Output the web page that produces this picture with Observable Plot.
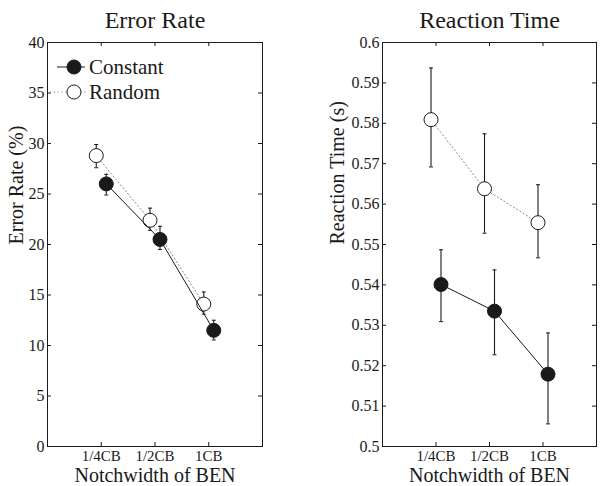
<!DOCTYPE html>
<html>
<head>
<meta charset="utf-8">
<script src="https://cdn.jsdelivr.net/npm/d3@7"></script>
<script src="https://cdn.jsdelivr.net/npm/@observablehq/plot@0.6"></script>
<style>
  html, body { margin: 0; padding: 0; background: #fff; }
  #wrap { position: relative; width: 600px; height: 486px; }
  #wrap > div, #wrap > svg { position: absolute; top: 0; }
</style>
</head>
<body>
<div id="wrap"></div>
<script>
// ---- data ----
const categories = ["1/4CB", "1/2CB", "1CB"];
const xPos = [1, 2, 3];

const errConstant   = [26.0, 20.5, 11.5];
const errConstantLo = [24.9, 19.5, 10.55];
const errConstantHi = [26.95, 21.8, 12.5];
const errRandom     = [28.8, 22.4, 14.1];
const errRandomLo   = [27.6, 21.4, 13.1];
const errRandomHi   = [29.9, 23.6, 15.3];

const rtConstant   = [0.5401, 0.5335, 0.5179];
const rtConstantLo = [0.5309, 0.5227, 0.5056];
const rtConstantHi = [0.5487, 0.5437, 0.5281];
const rtRandom     = [0.5809, 0.5638, 0.5554];
const rtRandomLo   = [0.5692, 0.5528, 0.5467];
const rtRandomHi   = [0.5937, 0.5774, 0.5648];

const errTicks = [0, 5, 10, 15, 20, 25, 30, 35, 40];
const rtTicks = [0.5, 0.51, 0.52, 0.53, 0.54, 0.55, 0.56, 0.57, 0.58, 0.59, 0.6];

const FONT = "'Liberation Serif', 'Times New Roman', serif";
const INK = "#1a1a1a";

// small horizontal cap symbol for error bars
const capSymbol = {draw(ctx) { ctx.moveTo(-2, 0); ctx.lineTo(2, 0); }};

function rows(vals, lo, hi) {
  return vals.map((v, i) => ({x: xPos[i], cat: categories[i], y: v, lo: lo[i], hi: hi[i]}));
}

function panel({title, ylabel, yDomain, yTicks, constant, random, marginLeft, marginRight, ylabelDx, fmt}) {
  const W = 300, H = 486;
  const mT = 42, mB = 40;
  const innerW = W - marginLeft - marginRight;
  const innerH = H - mT - mB;
  const tk = 4;
  const seriesMarks = (data, opts) => {
    const {dx, fill, lineStroke, dash} = opts;
    return [
      Plot.line(data, {x: "x", y: "y", dx, stroke: lineStroke, strokeWidth: 1, strokeDasharray: dash}),
      Plot.ruleX(data, {x: "x", y1: "lo", y2: "hi", dx, stroke: INK, strokeWidth: 1.1}),
      Plot.dot(data, {x: "x", y: "lo", dx, symbol: capSymbol, stroke: INK, strokeWidth: 1}),
      Plot.dot(data, {x: "x", y: "hi", dx, symbol: capSymbol, stroke: INK, strokeWidth: 1}),
      Plot.dot(data, {x: "x", y: "y", dx, r: 7, fill, stroke: INK, strokeWidth: 1})
    ];
  };
  return Plot.plot({
    width: W, height: H,
    marginLeft, marginRight, marginTop: mT, marginBottom: mB,
    style: {fontFamily: FONT, background: "transparent", color: INK},
    x: {type: "linear", domain: [0, 4]},
    y: {type: "linear", domain: yDomain},
    marks: [
      // inward ticks on all four sides
      Plot.ruleY(yTicks, {y: d => d, insetRight: innerW - tk, stroke: INK, strokeWidth: 1}),
      Plot.ruleY(yTicks, {y: d => d, insetLeft: innerW - tk, stroke: INK, strokeWidth: 1}),
      Plot.ruleX(xPos, {x: d => d, insetTop: innerH - tk, stroke: INK, strokeWidth: 1}),
      Plot.ruleX(xPos, {x: d => d, insetBottom: innerH - tk, stroke: INK, strokeWidth: 1}),
      Plot.axisY(yTicks, {tickSize: 0, tickPadding: 3, fontSize: 16, tickFormat: fmt, label: null}),
      Plot.axisX(xPos, {tickSize: 0, tickPadding: 4, fontSize: 15, tickFormat: (d) => categories[xPos.indexOf(d)], label: null}),
      Plot.frame({stroke: INK, strokeWidth: 1}),
      ...seriesMarks(random, {dx: -5, fill: "white", lineStroke: "#888", dash: "1.2,2.6"}),
      ...seriesMarks(constant, {dx: 5, fill: INK, lineStroke: INK, dash: null}),
      Plot.text([title], {frameAnchor: "top", lineAnchor: "bottom", dy: -15, fontSize: 24, fill: INK}),
      Plot.text(["Notchwidth of BEN"], {frameAnchor: "bottom", lineAnchor: "bottom", dy: 35, fontSize: 20, fill: INK}),
      Plot.text([ylabel], {frameAnchor: "left", rotate: -90, dx: ylabelDx, fontSize: 20, fill: INK})
    ]
  });
}

const left = panel({
  title: "Error Rate", ylabel: "Error Rate (%)",
  yDomain: [0, 40], yTicks: errTicks,
  constant: rows(errConstant, errConstantLo, errConstantHi),
  random: rows(errRandom, errRandomLo, errRandomHi),
  marginLeft: 47, marginRight: 38, ylabelDx: -31,
  fmt: d3.format("~g")
});
const right = panel({
  title: "Reaction Time", ylabel: "Reaction Time (s)",
  yDomain: [0.5, 0.6], yTicks: rtTicks,
  constant: rows(rtConstant, rtConstantLo, rtConstantHi),
  random: rows(rtRandom, rtRandomLo, rtRandomHi),
  marginLeft: 82, marginRight: 4, ylabelDx: -45,
  fmt: d3.format("~g")
});

const wrap = document.getElementById("wrap");
left.style.left = "0px";
right.style.left = "300px";
wrap.appendChild(left);
wrap.appendChild(right);

// legend inside the left panel
const svg = d3.select(left);
const lg = svg.append("g").attr("font-family", FONT).attr("font-size", 21)
  .attr("fill", INK).attr("text-anchor", "start");
const legendItems = [
  {label: "Constant", fill: INK, stroke: INK, dash: null, y: 67},
  {label: "Random", fill: "white", stroke: "#888", dash: "1.2,2.6", y: 92}
];
legendItems.forEach(it => {
  lg.append("line").attr("x1", it.dash ? 50 : 57).attr("x2", it.dash ? 88 : 85)
    .attr("y1", it.y).attr("y2", it.y).attr("stroke", it.stroke).attr("stroke-width", 1)
    .attr("stroke-dasharray", it.dash);
  lg.append("circle").attr("cx", 74).attr("cy", it.y).attr("r", 7)
    .attr("fill", it.fill).attr("stroke", INK).attr("stroke-width", 1);
  lg.append("text").attr("x", 89).attr("y", it.y).attr("dy", "0.35em")
    .attr("text-anchor", "start").text(it.label);
});
</script>
</body>
</html>
